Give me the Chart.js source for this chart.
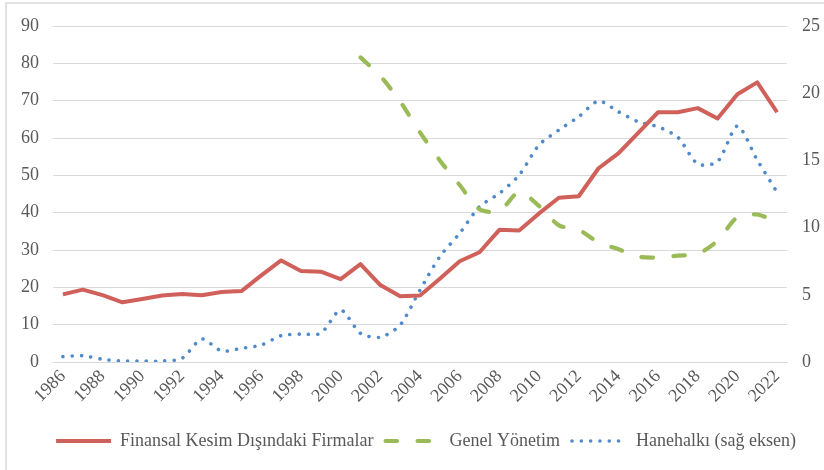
<!DOCTYPE html>
<html>
<head>
<meta charset="utf-8">
<script src="https://cdn.jsdelivr.net/npm/chart.js@4.4.1/dist/chart.umd.min.js"></script>
<style>
  html, body { margin: 0; padding: 0; background: #ffffff; }
  #c { display: block; }
</style>
</head>
<body>
<canvas id="c" width="824" height="470"></canvas>
<script>
const years = ['1986','1987','1988','1989','1990','1991','1992','1993','1994','1995',
  '1996','1997','1998','1999','2000','2001','2002','2003','2004','2005',
  '2006','2007','2008','2009','2010','2011','2012','2013','2014','2015',
  '2016','2017','2018','2019','2020','2021','2022'];

const firmalar = [18.1, 19.4, 17.9, 16.0, 16.9, 17.8, 18.2, 17.9, 18.75, 19.0,
  23.2, 27.2, 24.4, 24.2, 22.2, 26.2, 20.6, 17.6, 17.8, 22.3,
  27.0, 29.4, 35.4, 35.2, 39.8, 44.0, 44.4, 51.9, 55.9, 61.4,
  66.9, 66.9, 68.0, 65.2, 71.7, 74.9, 66.9];

const genelYonetim = [null, null, null, null, null, null, null, null, null, null,
  null, null, null, null, null, 81.6, 76.6, 69.8, 61.5, 54.0,
  47.4, 40.9, 40.4, 45.6, 41.8, 36.6, 35.4, 32.0, 30.2, 28.2,
  28.0, 28.5, 28.9, 32.5, 38.8, 39.5, 37.5];

const hanehalki = [0.4, 0.47, 0.2, 0.07, 0.07, 0.07, 0.27, 1.71, 0.82, 1.02,
  1.26, 1.96, 2.08, 2.13, 3.87, 2.13, 1.84, 2.75, 5.36, 7.84,
  9.58, 11.56, 12.55, 13.91, 16.15, 17.26, 18.25, 19.42, 18.62, 17.88,
  17.5, 16.72, 14.73, 14.9, 17.56, 15.03, 12.63];

const seriesNames = ['Finansal Kesim Dışındaki Firmalar', 'Genel Yönetim', 'Hanehalkı (sağ eksen)'];

const FONT = '"Liberation Serif", "Times New Roman", serif';
const TXT = '#595959';
const GRID = '#D9D9D9';

const framePlugin = {
  id: 'frame',
  beforeDraw(chart) {
    const ctx = chart.ctx;
    ctx.save();
    ctx.fillStyle = '#ffffff';
    ctx.fillRect(0, 0, chart.width, chart.height);
    ctx.strokeStyle = '#D9D9D9';
    ctx.lineWidth = 1.5;
    ctx.beginPath();
    ctx.moveTo(6, chart.height);
    ctx.lineTo(6, 3);
    ctx.lineTo(chart.width, 3);
    ctx.stroke();
    ctx.restore();
  },
  afterLayout(chart) {
    const lg = chart.legend;
    if (lg) {
      lg.left += 14;
      lg.right += 14;
      if (lg.adjustHitBoxes) lg.adjustHitBoxes();
    }
  }
};

function build() {
  new Chart(document.getElementById('c'), {
    type: 'line',
    data: {
      labels: years,
      datasets: [
        {
          label: seriesNames[0],
          data: firmalar,
          yAxisID: 'y',
          borderColor: '#D0605A',
          backgroundColor: '#D0605A',
          borderWidth: 4,
          borderJoinStyle: 'round',
          pointRadius: 0,
          pointStyle: 'line',
          tension: 0
        },
        {
          label: seriesNames[1],
          data: genelYonetim,
          yAxisID: 'y',
          borderColor: '#9BBB59',
          backgroundColor: '#9BBB59',
          borderWidth: 4.2,
          borderDash: [11.5, 20.5],
          borderCapStyle: 'round',
          pointRadius: 0,
          pointStyle: 'line',
          tension: 0.25
        },
        {
          label: seriesNames[2],
          data: hanehalki,
          yAxisID: 'y2',
          borderColor: '#4F8ACB',
          backgroundColor: '#4F8ACB',
          borderWidth: 3.6,
          borderDash: [0.01, 9.3],
          borderCapStyle: 'round',
          pointRadius: 0,
          pointStyle: 'line',
          tension: 0.25
        }
      ]
    },
    options: {
      responsive: false,
      animation: false,
      layout: { padding: { top: 26, bottom: 10, left: 0, right: 0 } },
      plugins: {
        legend: {
          position: 'bottom',
          labels: {
            usePointStyle: true,
            pointStyle: 'line',
            pointStyleWidth: 55,
            padding: 12,
            color: TXT,
            font: { family: FONT, size: 18 },
            generateLabels(chart) {
              return chart.data.datasets.map((ds, i) => ({
                text: ds.label,
                datasetIndex: i,
                fillStyle: ds.borderColor,
                strokeStyle: ds.borderColor,
                fontColor: TXT,
                lineWidth: ds.borderWidth,
                lineDash: ds.borderDash || [],
                lineDashOffset: 0,
                lineCap: ds.borderCapStyle || 'butt',
                lineJoin: 'round',
                pointStyle: 'line',
                hidden: false,
                rotation: 0
              }));
            }
          }
        },
        tooltip: { enabled: false }
      },
      scales: {
        x: {
          offset: true,
          grid: { display: false, drawTicks: false },
          border: { display: true, color: GRID, width: 1 },
          ticks: {
            autoSkip: false,
            maxRotation: 45,
            minRotation: 45,
            padding: 4,
            color: TXT,
            font: { family: FONT, size: 18 },
            callback: function(v, i) { return i % 2 === 0 ? years[i] : ''; }
          },
          afterFit(scale) { scale.height = 58; }
        },
        y: {
          position: 'left',
          min: 0, max: 90,
          grid: { color: GRID, lineWidth: 1, drawTicks: false },
          border: { display: false },
          ticks: {
            stepSize: 10,
            padding: 14,
            color: TXT,
            font: { family: FONT, size: 18 }
          },
          afterFit(scale) { scale.width = 53; }
        },
        y2: {
          position: 'right',
          min: 0, max: 25,
          grid: { display: false, drawTicks: false },
          border: { display: false },
          ticks: {
            stepSize: 5,
            padding: 15,
            color: TXT,
            font: { family: FONT, size: 18 }
          },
          afterFit(scale) { scale.width = 37; }
        }
      }
    },
    plugins: [framePlugin]
  });
}

if (document.fonts && document.fonts.load) {
  document.fonts.load('18px "Liberation Serif"').then(build, build);
} else {
  build();
}
</script>
</body>
</html>
